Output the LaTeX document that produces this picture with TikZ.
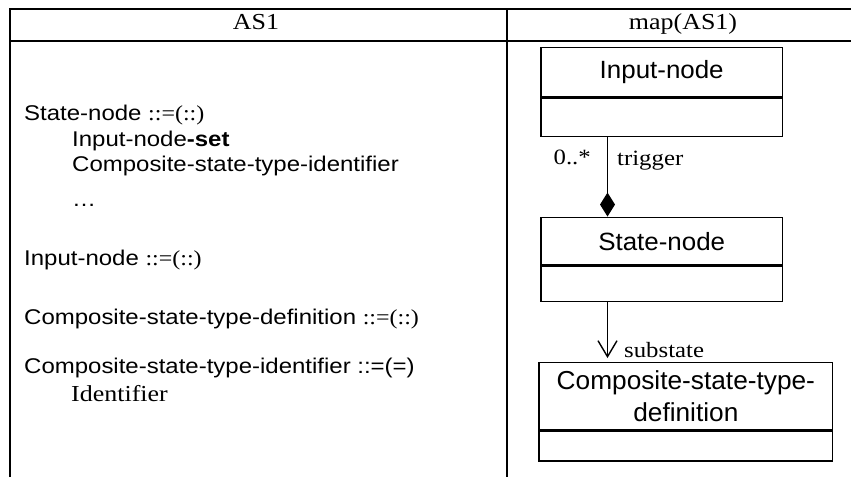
\documentclass[tikz,border=0pt]{standalone}
\usepackage{fontspec}
\usepackage{graphicx}
\setmainfont{Liberation Serif}
\newfontfamily\arialf{Liberation Sans}
\usetikzlibrary{arrows.meta}
% horizontally widened text
\newcommand{\hs}[2]{\scalebox{#1}[1.04]{#2}}

\begin{document}
\begin{tikzpicture}[x=1pt,y=-1pt,
  rule/.style={line width=2pt},
  boxline/.style={draw, line width=1.5pt, inner sep=0pt},
  hdr/.style={font=\fontsize{22pt}{26pt}\selectfont, anchor=base, inner sep=0pt},
  gram/.style={font=\arialf\fontsize{20.5pt}{25pt}\selectfont, anchor=base west, inner sep=0pt},
  lbl/.style={font=\fontsize{21pt}{25pt}\selectfont, inner sep=0pt},
  title/.style={boxline, font=\arialf\fontsize{24pt}{32pt}\selectfont, align=center},
  conn/.style={line width=1.4pt},
]
\useasboundingbox (0,0) rectangle (851,477);

% table frame
\draw[rule] (10,477) -- (10,9) -- (851,9);
\draw[rule] (10,40.7) -- (851,40.7);
\draw[rule] (507,9) -- (507,477);

% column headers
\node[hdr] (h1) at (256,29) {\hs{1.18}{AS1}};
\node[hdr] (h2) at (683,29) {\hs{1.18}{map(AS1)}};

% abstract syntax rules
\node[gram] (g1) at (24,120.7) {\hs{1.17}{State-node {\rmfamily ::=(::)}}};
\node[gram] (g2) at (72,146.7) {\hs{1.17}{Input-node\textbf{-set}}};
\node[gram] (g3) at (72,171.7) {\hs{1.17}{Composite-state-type-identifier}};
\node[gram] (g4) at (72,206) {\hs{1.17}{…}};
\node[gram] (g5) at (24,265) {\hs{1.17}{Input-node {\rmfamily ::=(::)}}};
\node[gram] (g6) at (24,324) {\hs{1.17}{Composite-state-type-definition {\rmfamily ::=(::)}}};
\node[gram] (g7) at (24,373.3) {\hs{1.17}{Composite-state-type-identifier ::=(=)}};
\node[gram, font=\fontsize{22pt}{26pt}\selectfont] (g8) at (71,401) {\hs{1.18}{Identifier}};

% class boxes
\node[title, minimum width=241.3pt, minimum height=49pt] (in) at (661.7,72.2) {\hs{1.08}{Input-node}};
\node[boxline, minimum width=241.3pt, minimum height=38.3pt, anchor=north] (inb) at (in.south) {};

\node[title, minimum width=241.3pt, minimum height=47.7pt] (sn) at (661.7,241.15) {\hs{1.08}{State-node}};
\node[boxline, minimum width=241.3pt, minimum height=35pt, anchor=north] (snb) at (sn.south) {};

\node[title, font=\arialf\fontsize{25pt}{32pt}\selectfont, minimum width=293.7pt, minimum height=67.7pt] (cs) at (685.85,396.15)
  {\hs{1.05}{Composite-state-type-}\\\hs{1.05}{definition}};
\node[boxline, minimum width=293.7pt, minimum height=29.5pt, anchor=north] (csb) at (cs.south) {};

% associations
\coordinate (cx) at (607.5,0);
\draw[conn, {Diamond[length=24pt,width=15pt]}-] (sn.north -| cx) -- (inb.south -| cx);
\draw[conn, -{Straight Barb[length=16pt,width=19pt]}, shorten >=3.5pt] (snb.south -| cx) -- (cs.north -| cx);

% association labels
\node[lbl, anchor=base east] (mult) at (591,164.5) {\hs{1.18}{0..*}};
\node[lbl, anchor=base west] (trg) at (617,165) {\hs{1.18}{trigger}};
\node[lbl, anchor=base west] (sub) at (624,357) {\hs{1.18}{substate}};
\end{tikzpicture}
\end{document}
